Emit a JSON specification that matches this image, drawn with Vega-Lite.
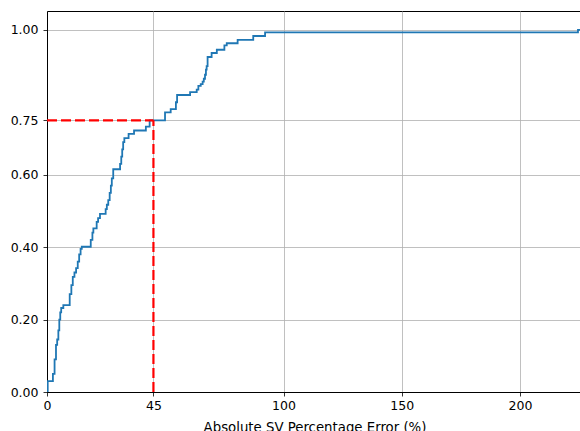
{
  "$schema": "https://vega.github.io/schema/vega-lite/v6.json",
  "width": 535,
  "height": 381,
  "autosize": {"type": "none"},
  "padding": {"left": 47, "top": 11, "right": 0, "bottom": 39},
  "background": "white",
  "config": {
    "view": {"stroke": "black", "strokeWidth": 1},
    "font": "DejaVu Sans",
    "axis": {
      "gridColor": "#b0b0b0",
      "gridWidth": 0.8,
      "domainColor": "black",
      "domainWidth": 1,
      "tickColor": "black",
      "tickWidth": 0.8,
      "tickSize": 4,
      "labelColor": "black",
      "labelFontSize": 12.5,
      "labelFont": "DejaVu Sans",
      "titleFont": "DejaVu Sans",
      "titleFontSize": 13.3,
      "titleFontWeight": "normal",
      "titleColor": "black"
    }
  },
  "datasets": {
    "ecdf": [
      {"err": 0.0, "frac": 0.0},
      {"err": 0.3, "frac": 0.03},
      {"err": 2.5, "frac": 0.05},
      {"err": 3.2, "frac": 0.09},
      {"err": 3.8, "frac": 0.13},
      {"err": 4.3, "frac": 0.145},
      {"err": 4.8, "frac": 0.17},
      {"err": 5.2, "frac": 0.2},
      {"err": 5.6, "frac": 0.22},
      {"err": 6.0, "frac": 0.232},
      {"err": 6.9, "frac": 0.24},
      {"err": 9.6, "frac": 0.27},
      {"err": 10.3, "frac": 0.295},
      {"err": 10.9, "frac": 0.318},
      {"err": 11.6, "frac": 0.33},
      {"err": 12.3, "frac": 0.342},
      {"err": 13.0, "frac": 0.36},
      {"err": 13.6, "frac": 0.38},
      {"err": 14.2, "frac": 0.395},
      {"err": 14.7, "frac": 0.401},
      {"err": 18.5, "frac": 0.42},
      {"err": 19.2, "frac": 0.44},
      {"err": 19.6, "frac": 0.452},
      {"err": 21.0, "frac": 0.47},
      {"err": 21.6, "frac": 0.48},
      {"err": 22.4, "frac": 0.492},
      {"err": 24.8, "frac": 0.505},
      {"err": 25.3, "frac": 0.517},
      {"err": 25.9, "frac": 0.53},
      {"err": 26.5, "frac": 0.55},
      {"err": 27.0, "frac": 0.57},
      {"err": 27.4, "frac": 0.59},
      {"err": 28.0, "frac": 0.615},
      {"err": 30.9, "frac": 0.63},
      {"err": 31.4, "frac": 0.65},
      {"err": 31.8, "frac": 0.67},
      {"err": 32.2, "frac": 0.69},
      {"err": 32.7, "frac": 0.701},
      {"err": 34.5, "frac": 0.713},
      {"err": 36.8, "frac": 0.722},
      {"err": 41.8, "frac": 0.733},
      {"err": 43.4, "frac": 0.75},
      {"err": 49.9, "frac": 0.772},
      {"err": 52.3, "frac": 0.781},
      {"err": 54.5, "frac": 0.8},
      {"err": 55.0, "frac": 0.82},
      {"err": 60.5, "frac": 0.828},
      {"err": 63.3, "frac": 0.835},
      {"err": 64.0, "frac": 0.845},
      {"err": 65.0, "frac": 0.85},
      {"err": 65.8, "frac": 0.857},
      {"err": 66.3, "frac": 0.865},
      {"err": 66.8, "frac": 0.876},
      {"err": 67.2, "frac": 0.89},
      {"err": 67.5, "frac": 0.9},
      {"err": 67.9, "frac": 0.925},
      {"err": 69.6, "frac": 0.936},
      {"err": 71.8, "frac": 0.945},
      {"err": 75.0, "frac": 0.957},
      {"err": 76.0, "frac": 0.963},
      {"err": 80.6, "frac": 0.972},
      {"err": 87.2, "frac": 0.983},
      {"err": 92.2, "frac": 0.993},
      {"err": 224.5, "frac": 1.0},
      {"err": 226.2, "frac": 1.0}
    ],
    "guides": [
      {"x": 0, "x2": 45, "y": 0.75, "y2": 0.75},
      {"x": 45, "x2": 45, "y": 0, "y2": 0.75}
    ]
  },
  "layer": [
    {
      "data": {"name": "ecdf"},
      "mark": {"type": "line", "interpolate": "step-after", "color": "#1f77b4", "strokeWidth": 1.8, "clip": true},
      "encoding": {
        "x": {
          "field": "err", "type": "quantitative",
          "scale": {"domain": [0, 226.2], "nice": false, "zero": false},
          "axis": {"values": [0, 45, 100, 150, 200], "title": "Absolute SV Percentage Error (%)", "labelPadding": 3, "titlePadding": 9, "grid": true, "labelFlush": false}
        },
        "y": {
          "field": "frac", "type": "quantitative",
          "scale": {"domain": [0, 1.052], "nice": false},
          "axis": {"values": [0, 0.2, 0.4, 0.6, 0.75, 1.0], "format": ".2f", "title": null, "labelPadding": 5, "grid": true, "labelFlush": false}
        }
      }
    },
    {
      "data": {"name": "guides"},
      "mark": {"type": "rule", "color": "red", "strokeWidth": 2.2, "strokeDash": [10, 4], "clip": true},
      "encoding": {
        "x": {"field": "x", "type": "quantitative"},
        "x2": {"field": "x2"},
        "y": {"field": "y", "type": "quantitative"},
        "y2": {"field": "y2"}
      }
    }
  ]
}
